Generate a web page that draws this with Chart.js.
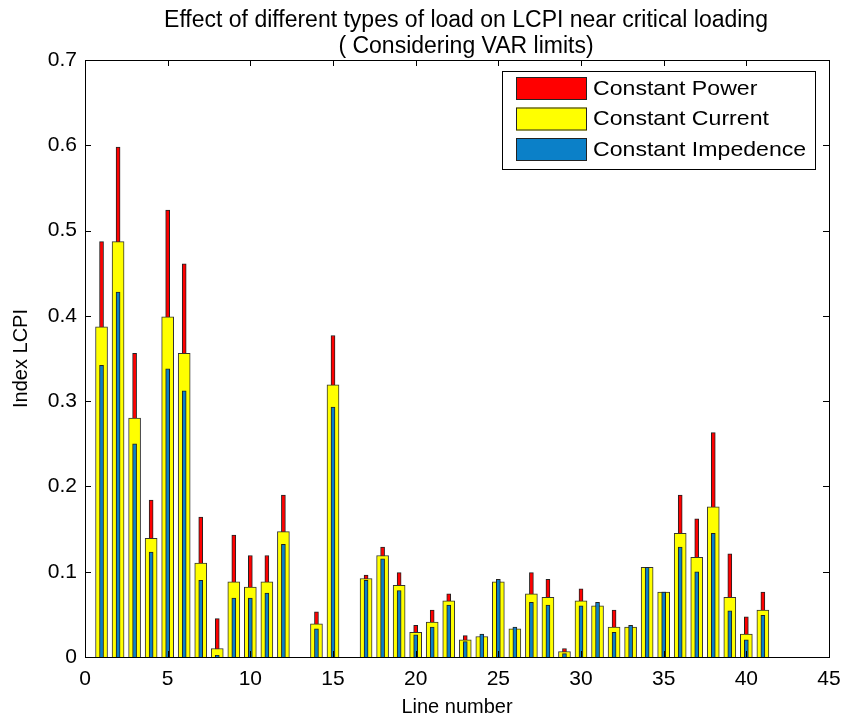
<!DOCTYPE html>
<html><head><meta charset="utf-8">
<script src="https://cdn.jsdelivr.net/npm/chart.js@4/dist/chart.umd.min.js"></script>
<style>html,body{margin:0;padding:0;background:#fff;} canvas{display:block;}</style>
</head><body>
<canvas id="c" width="843" height="719"></canvas>
<script>
const lineNumbers = [1,2,3,4,5,6,7,8,9,10,11,12,13,14,15,16,17,18,19,20,21,22,23,24,25,26,27,28,29,30,31,32,33,34,35,36,37,38,39,40,41];
const constantPower = [0.487,0.598,0.356,0.184,0.524,0.461,0.164,0.045,0.143,0.119,0.119,0.190,null,0.053,0.377,null,0.096,0.129,0.099,0.037,0.055,0.074,0.025,0.024,0.088,0.033,0.099,0.091,0.010,0.080,0.060,0.055,0.035,0.105,0.076,0.190,0.162,0.263,0.121,0.047,0.076];
const constantCurrent = [0.387,0.487,0.280,0.139,0.399,0.356,0.110,0.010,0.088,0.082,0.088,0.147,null,0.039,0.319,null,0.092,0.119,0.084,0.029,0.041,0.066,0.020,0.024,0.088,0.033,0.074,0.070,0.0065,0.066,0.060,0.035,0.035,0.105,0.076,0.145,0.117,0.176,0.070,0.027,0.055];
const constantImpedance = [0.342,0.428,0.250,0.123,0.338,0.312,0.090,0.002,0.069,0.069,0.075,0.132,null,0.033,0.293,null,0.090,0.115,0.078,0.026,0.035,0.061,0.018,0.027,0.091,0.035,0.064,0.061,0.004,0.060,0.064,0.029,0.037,0.105,0.076,0.129,0.100,0.145,0.054,0.020,0.049];
const seriesNames = ['Constant Power','Constant Current','Constant Impedence'];
const xTickValues = [0,5,10,15,20,25,30,35,40,45];
const yTickValues = [0,0.1,0.2,0.3,0.4,0.5,0.6,0.7];
const yTickLabels = ['0','0.1','0.2','0.3','0.4','0.5','0.6','0.7'];
const titleLines = ['Effect of different types of load on LCPI near critical loading','( Considering VAR limits)'];
const xAxisTitle = 'Line number';
const yAxisTitle = 'Index LCPI';

const FONT = "'Liberation Sans', Arial, sans-serif";
const pts = arr => lineNumbers.map((x, i) => ({x: x, y: arr[i]}));

const titleShift = {
  id: 'titleShift',
  afterLayout(chart) {
    if (chart.titleBlock) { chart.titleBlock.left += 9; chart.titleBlock.right += 9; }
  }
};

const boxPlugin = {
  id: 'matlabBox',
  afterDatasetsDraw(chart) {
    const {ctx, chartArea: a, scales} = chart;
    ctx.save();
    ctx.strokeStyle = '#000';
    ctx.lineWidth = 1;
    const tl = 6;
    ctx.beginPath();
    xTickValues.forEach(v => {
      const px = Math.round(scales.x.getPixelForValue(v)) + 0.5;
      ctx.moveTo(px, a.bottom); ctx.lineTo(px, a.bottom - tl);
      ctx.moveTo(px, a.top); ctx.lineTo(px, a.top + tl);
    });
    yTickValues.forEach(v => {
      const py = Math.round(scales.y.getPixelForValue(v)) + 0.5;
      ctx.moveTo(a.left, py); ctx.lineTo(a.left + tl, py);
      ctx.moveTo(a.right, py); ctx.lineTo(a.right - tl, py);
    });
    ctx.stroke();
    ctx.strokeRect(Math.round(a.left) + 0.5, Math.round(a.top) + 0.5, Math.round(a.right - a.left), Math.round(a.bottom - a.top));
    // legend
    const lx = Math.round(a.right) - 327, ly = Math.round(a.top) + 11, lw = 313, lh = 98;
    ctx.fillStyle = '#fff';
    ctx.fillRect(lx, ly, lw, lh);
    ctx.strokeRect(lx + 0.5, ly + 0.5, lw, lh);
    ctx.font = "21px " + FONT;
    ctx.textBaseline = 'middle';
    ctx.textAlign = 'left';
    chart.data.datasets.forEach((ds, i) => {
      const ry = ly + 6 + i * 30.5;
      ctx.fillStyle = ds.backgroundColor;
      ctx.fillRect(lx + 14, ry, 71, 23);
      ctx.strokeStyle = '#222';
      ctx.strokeRect(lx + 14.5, ry + 0.5, 70, 22);
      ctx.fillStyle = '#000';
      ctx.save();
      ctx.translate(lx + 91, ry + 12);
      ctx.scale(1.1, 1);
      ctx.fillText(ds.label, 0, 0);
      ctx.restore();
    });
    ctx.restore();
  }
};

new Chart(document.getElementById('c'), {
  type: 'bar',
  data: {
    datasets: [
      {label: seriesNames[0], data: pts(constantPower), backgroundColor: '#ff0000', borderColor: '#222', borderWidth: 1, barThickness: 4, order: 3, grouped: false},
      {label: seriesNames[1], data: pts(constantCurrent), backgroundColor: '#ffff00', borderColor: '#333', borderWidth: 1, barThickness: 12, order: 2, grouped: false},
      {label: seriesNames[2], data: pts(constantImpedance), backgroundColor: '#0b80c8', borderColor: '#222', borderWidth: 1, barThickness: 4, order: 1, grouped: false}
    ]
  },
  options: {
    responsive: false,
    animation: false,
    layout: {padding: {left: 0, right: 14, top: 0, bottom: 0}},
    plugins: {
      legend: {display: false},
      tooltip: {enabled: false},
      title: {display: true, fullSize: false, text: titleLines, color: '#000', font: {family: FONT, size: 23, weight: 'normal', lineHeight: 26/23}, padding: {top: 8, bottom: 0}}
    },
    scales: {
      x: {
        type: 'linear', min: 0, max: 45, offset: false,
        afterBuildTicks: s => { s.ticks = xTickValues.map(v => ({value: v})); },
        afterFit: s => { s.height = 62; s.paddingRight = 0; s.paddingLeft = 0; },
        grid: {display: false, drawTicks: false},
        border: {display: false},
        ticks: {color: '#000', font: {family: FONT, size: 21}, padding: 10, maxRotation: 0, autoSkip: false},
        title: {display: true, text: xAxisTitle, color: '#000', font: {family: FONT, size: 20}, padding: {top: 0, bottom: 0}}
      },
      y: {
        min: 0, max: 0.7,
        afterBuildTicks: s => { s.ticks = yTickValues.map(v => ({value: v})); },
        afterFit: s => { s.width = 85; s.paddingTop = 0; s.paddingBottom = 0; },
        grid: {display: false, drawTicks: false},
        border: {display: false},
        ticks: {color: '#000', font: {family: FONT, size: 21}, padding: 8, autoSkip: false,
          callback: (v, i) => yTickLabels[yTickValues.indexOf(v)] ?? String(v)},
        title: {display: true, text: yAxisTitle, color: '#000', font: {family: FONT, size: 20}, padding: {top: 9, bottom: 0}}
      }
    }
  },
  plugins: [titleShift, boxPlugin]
});
</script>
</body></html>
